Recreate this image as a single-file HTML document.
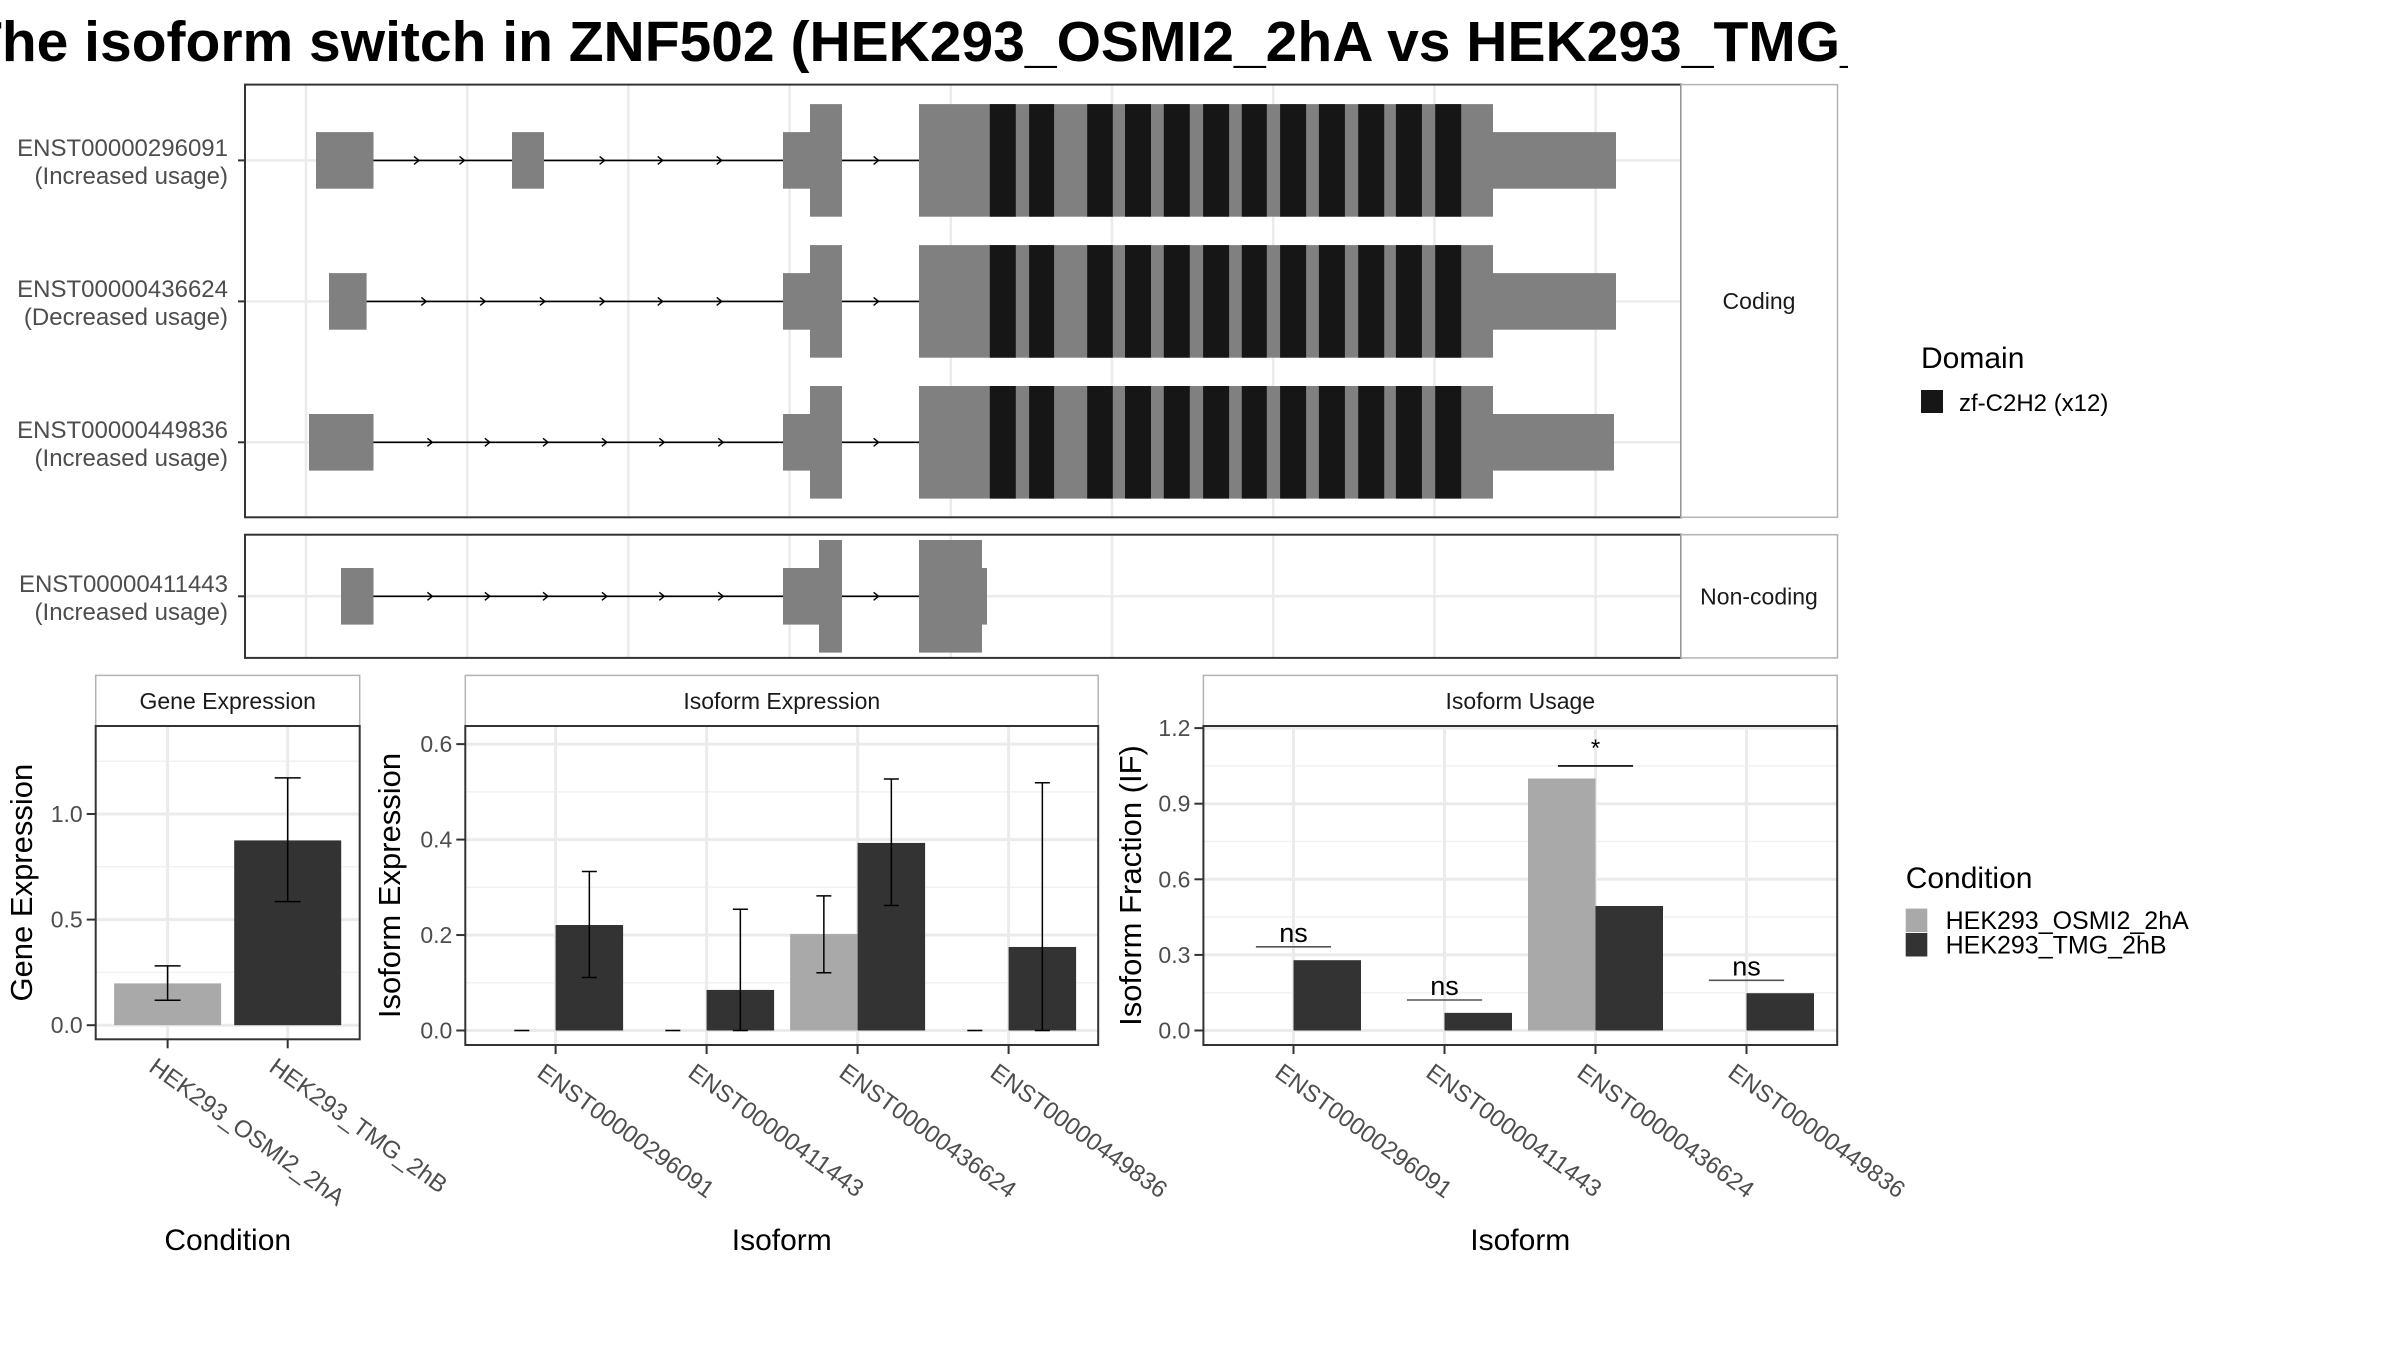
<!DOCTYPE html>
<html><head><meta charset="utf-8"><style>
html,body{margin:0;padding:0;background:#fff}
svg{display:block}
text{font-family:"Liberation Sans",Arial,sans-serif}
</style></head><body>
<svg id="fig" xmlns="http://www.w3.org/2000/svg" width="2400" height="1350" viewBox="0 0 2400 1350">
<defs><clipPath id="titleclip"><rect x="0" y="0" width="1848" height="90"/></clipPath></defs>
<rect x="0" y="0" width="2400" height="1350" fill="#fff"/>
<text x="-33" y="61" font-size="57" font-weight="bold" fill="#000" clip-path="url(#titleclip)">The isoform switch in ZNF502 (HEK293_OSMI2_2hA vs HEK293_TMG_2hB)</text>
<g id="g"></g>
</svg>
<script>
// ===== Transcript structure data (genomic-position units mapped to px) =====
const txNames = ["ENST00000296091","ENST00000436624","ENST00000449836","ENST00000411443"];
const txStatus = ["(Increased usage)","(Decreased usage)","(Increased usage)","(Increased usage)"];
const txRowY = [160.4, 301.4, 442.3, 596.3];
// exons: [start, end, kind] kind: 0 = UTR (short), 1 = CDS (tall)
const txExons = [
  [[316,373.5,0],[512,544,0],[783,810,0],[810,842,1],[919,1493,1],[1493,1616,0]],
  [[329,366.6,0],[783,810,0],[810,842,1],[919,1493,1],[1493,1616,0]],
  [[309,373.5,0],[783,810,0],[810,842,1],[919,1493,1],[1493,1614,0]],
  [[341,373.5,0],[783,819,0],[819,842,1],[919,982,1],[982,987,0]]
];
const txArrows = [
  [419,464.5,604.6,662.7,721.7,878.6],
  [426.3,485.2,544.9,604.6,662.7,721.7,878.6],
  [432.4,489.8,548,606.9,664.3,723.2,878.6],
  [432.4,489.8,548,606.9,664.3,723.2,878.6]
];
const domStart = [989.8,1029.1,1087.2,1125.0,1163.8,1203.1,1241.8,1280.1,1318.9,1358.2,1395.9,1435.2];
const domEnd   = [1015.8,1054.1,1112.8,1151.0,1189.8,1229.1,1266.8,1306.1,1344.9,1384.2,1421.9,1461.2];
const domRows = [0,1,2];

// ===== Gene expression =====
const geneCats = ["HEK293_OSMI2_2hA","HEK293_TMG_2hB"];
const geneVals = [0.198, 0.875];
const geneLo = [0.118, 0.585];
const geneHi = [0.281, 1.171];
const geneTicks = [0, 0.5, 1.0];
const geneTickLabels = ["0.0","0.5","1.0"];

// ===== Isoform expression =====
const isoCats = ["ENST00000296091","ENST00000411443","ENST00000436624","ENST00000449836"];
const isoExpA = [0, 0, 0.202, 0];
const isoExpALo = [0, 0, 0.121, 0];
const isoExpAHi = [0, 0, 0.282, 0];
const isoExpB = [0.221, 0.085, 0.393, 0.175];
const isoExpBLo = [0.111, 0, 0.262, 0];
const isoExpBHi = [0.333, 0.254, 0.527, 0.519];
const isoExpTicks = [0, 0.2, 0.4, 0.6];
const isoExpTickLabels = ["0.0","0.2","0.4","0.6"];

// ===== Isoform usage =====
const useA = [0, 0, 1.0, 0];
const useB = [0.279, 0.07, 0.494, 0.148];
const sigLabels = ["ns","ns","*","ns"];
const sigY = [0.332, 0.121, 1.05, 0.199];
const useTicks = [0, 0.3, 0.6, 0.9, 1.2];
const useTickLabels = ["0.0","0.3","0.6","0.9","1.2"];

const colA = "#a9a9a9", colB = "#333333";
const NS = "http://www.w3.org/2000/svg";
const root = document.getElementById("g");
function mk(tag, attrs, parent, txt){
  const e = document.createElementNS(NS, tag);
  for (const k in attrs) e.setAttribute(k, attrs[k]);
  if (txt !== undefined) e.textContent = txt;
  (parent||root).appendChild(e);
  return e;
}
let el;

// ---------- Transcript panels ----------
const P1 = {x0:245, x1:1681, y0:84.6, y1:517.3};
const P2 = {x0:245, x1:1681, y0:534.7, y1:657.9};
const gridX = [306,467.2,628.4,789.6,950.8,1112,1273.2,1434.4,1595.6];
[P1,P2].forEach((p,pi)=>{
  el = mk("rect",{x:p.x0,y:p.y0,width:p.x1-p.x0,height:p.y1-p.y0,fill:"#fff"});
  
  
  gridX.forEach(gx=>{
    el = mk("line",{x1:gx,x2:gx,y1:p.y0,y2:p.y1,stroke:"#ebebeb","stroke-width":2.5});
    
    
  });
});
txRowY.forEach((y,i)=>{
  const p = i<3?P1:P2;
  el = mk("line",{x1:p.x0,x2:p.x1,y1:y,y2:y,stroke:"#ebebeb","stroke-width":2.5});
  
  
});
const TALL=56.3, SHORT=28.3;
txExons.forEach((exs,i)=>{
  const y = txRowY[i];
  const first = exs[0][1], last = exs[exs.length-1][0];
  el = mk("line",{x1:first,x2:exs[exs.length-1][0],y1:y,y2:y,stroke:"#000","stroke-width":1.6});
  
  
  txArrows[i].forEach(ax=>{
    el = mk("path",{d:`M${ax-5},${y-4} L${ax},${y} L${ax-5},${y+4}`,fill:"none",stroke:"#000","stroke-width":1.4});
    
    
  });
  exs.forEach(ex=>{
    const h = ex[2]?TALL:SHORT;
    el = mk("rect",{x:ex[0],y:y-h,width:ex[1]-ex[0],height:2*h,fill:"#808080"});
    
    
  });
});
domRows.forEach(r=>{
  domStart.forEach((s,j)=>{
    el = mk("rect",{x:s,y:txRowY[r]-TALL,width:domEnd[j]-s,height:2*TALL,fill:"#161616"});
    
    
  });
});
txNames.forEach((n,i)=>{
  const y = txRowY[i];
  el = mk("text",{x:228,y:y-4.5,"text-anchor":"end","font-size":24,fill:"#4d4d4d"},null,n);
  
  
  el = mk("text",{x:228,y:y+23.5,"text-anchor":"end","font-size":24,fill:"#4d4d4d"},null,txStatus[i]);
  
  
  el = mk("line",{x1:238,x2:245,y1:y,y2:y,stroke:"#333","stroke-width":2});
  
  
});
[P1,P2].forEach((p,pi)=>{
  el = mk("rect",{x:p.x0,y:p.y0,width:p.x1-p.x0,height:p.y1-p.y0,fill:"none",stroke:"#333","stroke-width":2});
  
  
  el = mk("rect",{x:p.x1,y:p.y0,width:1837.5-p.x1,height:p.y1-p.y0,fill:"#fff",stroke:"#b3b3b3","stroke-width":1.5});
  
  
  el = mk("text",{x:1759,y:(p.y0+p.y1)/2+8,"text-anchor":"middle","font-size":23,fill:"#1a1a1a"},null,pi?"Non-coding":"Coding");
  
  
});
// Domain legend
el = mk("text",{x:1921,y:368,"font-size":30,fill:"#000"},null,"Domain");


el = mk("rect",{x:1921,y:390,width:22,height:23,fill:"#161616"});


el = mk("text",{x:1959,y:411,"font-size":24,fill:"#000"},null,"zf-C2H2 (x12)");



// ---------- Bar panel helper ----------
function panel(cfg){
  const {x0,x1,yTop,yBot,zeroY,ppu,minorStep,maxV,title,name} = cfg;
  const yS = v => zeroY - v*ppu;
  el = mk("rect",{x:x0,y:yTop,width:x1-x0,height:yBot-yTop,fill:"#fff"});
  
  
  for (let v=minorStep; yS(v)>yTop; v+=2*minorStep){
    el = mk("line",{x1:x0,x2:x1,y1:yS(v),y2:yS(v),stroke:"#f2f2f2","stroke-width":1.5});
    
    
  }
  cfg.ticks.forEach((t,i)=>{
    el = mk("line",{x1:x0,x2:x1,y1:yS(t),y2:yS(t),stroke:"#ebebeb","stroke-width":3});
    
    
    el = mk("line",{x1:x0-9,x2:x0,y1:yS(t),y2:yS(t),stroke:"#333","stroke-width":2});
    
    
    el = mk("text",{x:x0-13,y:yS(t)+8,"text-anchor":"end","font-size":23,fill:"#4d4d4d"},null,cfg.tickLabels[i]);
    
    
  });
  const xC = i => cfg.c0 + i*cfg.step;
  cfg.cats.forEach((c,i)=>{
    el = mk("line",{x1:xC(i),x2:xC(i),y1:yTop,y2:yBot,stroke:"#ebebeb","stroke-width":3});
    
    
  });
  // strip
  el = mk("rect",{x:x0,y:675.4,width:x1-x0,height:yTop-675.4,fill:"#fff",stroke:"#b3b3b3","stroke-width":1.5});
  
  
  el = mk("text",{x:(x0+x1)/2,y:709,"text-anchor":"middle","font-size":23,fill:"#1a1a1a"},null,title);
  
  
  // x ticks + labels
  cfg.cats.forEach((c,i)=>{
    const x = xC(i);
    el = mk("line",{x1:x,x2:x,y1:yBot,y2:yBot+9,stroke:"#333","stroke-width":2});
    
    
    const ax = x-10, ay = yBot+17;
    el = mk("text",{x:ax,y:ay,dy:17,"font-size":24,fill:"#4d4d4d",transform:`rotate(35.8 ${ax} ${ay})`},null,c);
    
    
  });
  // axis titles
  el = mk("text",{x:(x0+x1)/2,y:1250,"text-anchor":"middle","font-size":30,fill:"#000"},null,cfg.xTitle);
  
  
  const tx = cfg.yTitleX, ty = (yTop+yBot)/2;
  el = mk("text",{x:tx,y:ty,"text-anchor":"middle","font-size":31,fill:"#000",transform:`rotate(-90 ${tx} ${ty})`},null,cfg.yTitle);
  
  
  return {yS,xC};
}
function border(x0,x1,yTop,yBot,name){
  el = mk("rect",{x:x0,y:yTop,width:x1-x0,height:yBot-yTop,fill:"none",stroke:"#333","stroke-width":2});
  
  
}
function errbar(x,lo,hi,yS,w,name){
  el = mk("path",{d:`M${x-w/2},${yS(hi)}H${x+w/2}M${x},${yS(hi)}V${yS(lo)}M${x-w/2},${yS(lo)}H${x+w/2}`,fill:"none",stroke:"#000","stroke-width":1.5});
  
  
}

// Gene expression panel
const gp = panel({x0:95.7,x1:359.7,yTop:726,yBot:1039.3,zeroY:1025.2,ppu:211.2,minorStep:0.25,
  ticks:geneTicks,tickLabels:geneTickLabels,cats:geneCats,c0:167.6,step:120.1,title:"Gene Expression",
  name:"gene-expression",xTitle:"Condition",yTitle:"Gene Expression",yTitleX:32});
geneCats.forEach((c,i)=>{
  const x = gp.xC(i), bw = 107;
  el = mk("rect",{x:x-bw/2,y:gp.yS(geneVals[i]),width:bw,height:gp.yS(0)-gp.yS(geneVals[i]),fill:i?colB:colA});
  
  
  errbar(x,geneLo[i],geneHi[i],gp.yS,26,'gene-expression-errorbar');
});
border(95.7,359.7,726,1039.3,'gene-expression');

// Isoform expression panel
const ip = panel({x0:465.3,x1:1098.2,yTop:726,yBot:1045,zeroY:1030.5,ppu:477.3,minorStep:0.1,
  ticks:isoExpTicks,tickLabels:isoExpTickLabels,cats:isoCats,c0:555.6,step:151,title:"Isoform Expression",
  name:"isoform-expression",xTitle:"Isoform",yTitle:"Isoform Expression",yTitleX:400});
isoCats.forEach((c,i)=>{
  const x = ip.xC(i), bw = 67.5;
  el = mk("rect",{x:x-bw,y:ip.yS(isoExpA[i]),width:bw,height:ip.yS(0)-ip.yS(isoExpA[i]),fill:colA});
  
  
  el = mk("rect",{x:x,y:ip.yS(isoExpB[i]),width:bw,height:ip.yS(0)-ip.yS(isoExpB[i]),fill:colB});
  
  
  errbar(x-bw/2,isoExpALo[i],isoExpAHi[i],ip.yS,15,'isoform-expression-errorbar-osmi2');
  errbar(x+bw/2,isoExpBLo[i],isoExpBHi[i],ip.yS,15,'isoform-expression-errorbar-tmg');
});
border(465.3,1098.2,726,1045,'isoform-expression');

// Isoform usage panel
const up = panel({x0:1203.4,x1:1837.2,yTop:726,yBot:1045,zeroY:1030.5,ppu:252,minorStep:0.15,
  ticks:useTicks,tickLabels:useTickLabels,cats:isoCats,c0:1293.5,step:151,title:"Isoform Usage",
  name:"isoform-usage",xTitle:"Isoform",yTitle:"Isoform Fraction (IF)",yTitleX:1141});
isoCats.forEach((c,i)=>{
  const x = up.xC(i), bw = 67.5;
  el = mk("rect",{x:x-bw,y:up.yS(useA[i]),width:bw,height:up.yS(0)-up.yS(useA[i]),fill:colA});
  
  
  el = mk("rect",{x:x,y:up.yS(useB[i]),width:bw,height:up.yS(0)-up.yS(useB[i]),fill:colB});
  
  
  const sy = up.yS(sigY[i]);
  el = mk("line",{x1:x-37.6,x2:x+37.6,y1:sy,y2:sy,stroke:sigLabels[i]==="*"?"#000":"#555","stroke-width":1.6});
  
  
  el = mk("text",{x:x,y:sigLabels[i]==="*"?sy-10:sy-5,"text-anchor":"middle","font-size":sigLabels[i]==="*"?24:27,fill:"#000"},null,sigLabels[i]);
  
  
});
border(1203.4,1837.2,726,1045,'isoform-usage');

// Condition legend
el = mk("text",{x:1905.7,y:888,"font-size":30,fill:"#000"},null,"Condition");


geneCats.forEach((c,i)=>{
  el = mk("rect",{x:1905.7,y:908.6+i*24.4,width:21.6,height:23.5,fill:i?colB:colA});
  
  
  el = mk("text",{x:1945.6,y:929+i*24.7,"font-size":25,fill:"#000"},null,c);
  
  
});
</script>
</body></html>
